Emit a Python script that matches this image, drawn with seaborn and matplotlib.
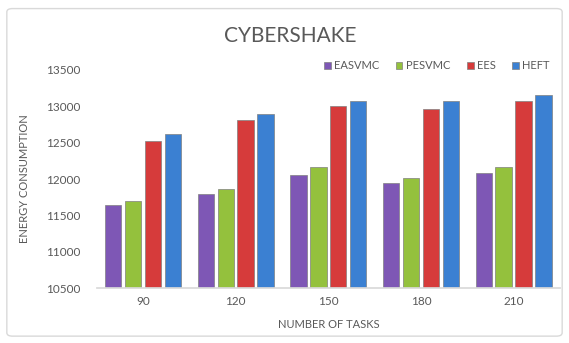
import matplotlib
matplotlib.use("Agg")
import matplotlib.pyplot as plt
import seaborn as sns
import pandas as pd
from matplotlib.patches import FancyBboxPatch

tasks = ["90", "120", "150", "180", "210"]
easvmc = [11640, 11790, 12060, 11950, 12090]
pesvmc = [11700, 11860, 12170, 12020, 12170]
ees = [12520, 12810, 13000, 12960, 13070]
heft = [12620, 12890, 13080, 13080, 13150]
series_names = ["EASVMC", "PESVMC", "EES", "HEFT"]
colors = ["#7E57B5", "#94C13D", "#D63B3B", "#3B80D2"]

rows = []
for name, vals in zip(series_names, [easvmc, pesvmc, ees, heft]):
    for t, v in zip(tasks, vals):
        rows.append({"tasks": t, "series": name, "value": v})
df = pd.DataFrame(rows)

sns.set_theme(style="white")
plt.rcParams["font.family"] = ["Lato", "DejaVu Sans"]
txt = "#595959"

fig = plt.figure(figsize=(5.69, 3.43), dpi=100)
fig.patch.set_facecolor("white")
border = FancyBboxPatch((0.012, 0.02), 0.976, 0.955, boxstyle="round,pad=0,rounding_size=0.01",
                        transform=fig.transFigure, fill=False, edgecolor="#D9D9D9", linewidth=1.0)
fig.patches.append(border)

ax = fig.add_axes([0.170, 0.160, 0.814, 0.636])
sns.barplot(data=df, x="tasks", y="value", hue="series", palette=colors, saturation=1,
            width=0.86, gap=0.18, ax=ax, edgecolor="#808080", linewidth=0.5)
ax.set_ylim(10500, 13500)
ax.set_yticks([10500, 11000, 11500, 12000, 12500, 13000, 13500])
for s in ["top", "right", "left"]:
    ax.spines[s].set_visible(False)
ax.spines["bottom"].set_color("#D9D9D9")
ax.tick_params(axis="both", length=0, colors=txt, labelsize=8.5)
ax.tick_params(axis="y", pad=12)
ax.tick_params(axis="x", pad=6)
ax.set_xlabel("NUMBER OF TASKS", color=txt, fontsize=8, labelpad=8)
ax.set_ylabel("ENERGY CONSUMPTION", color=txt, fontsize=8, labelpad=14)
ax.yaxis.set_label_coords(-0.145, 0.5)

leg = ax.legend(loc="upper right", bbox_to_anchor=(1.0, 1.09), ncol=4, frameon=False,
                fontsize=8, handlelength=0.6, handleheight=0.6, handletextpad=0.3,
                columnspacing=1.5, labelcolor=txt)

fig.text(0.51, 0.895, "CYBERSHAKE", ha="center", va="center", fontsize=15, color=txt)

fig.savefig("out.png", dpi=100)
